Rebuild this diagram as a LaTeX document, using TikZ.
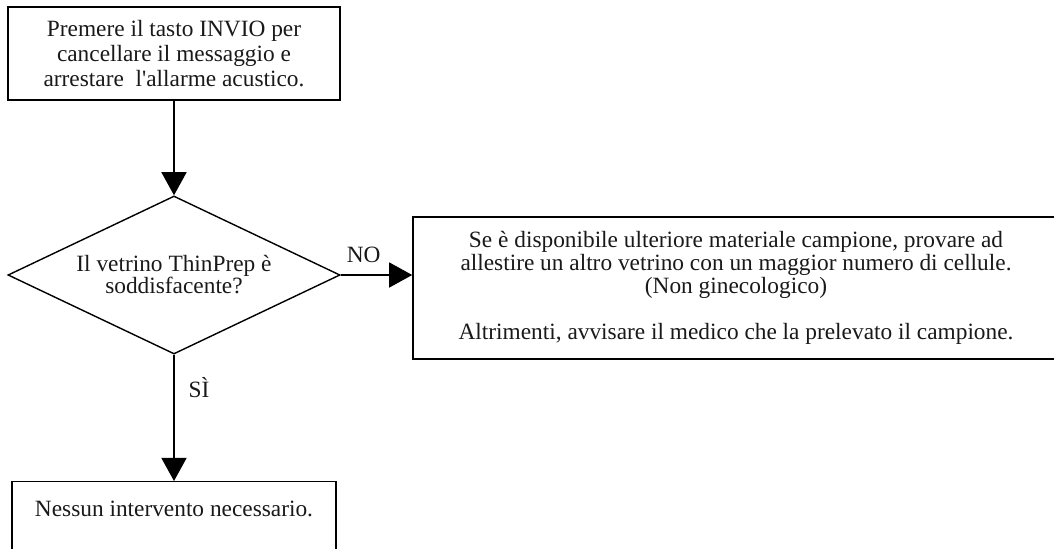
\documentclass[tikz,border=0pt]{standalone}
\usepackage{fontspec}
\setmainfont{Liberation Serif}
\usepackage{tikz}
\usetikzlibrary{arrows.meta,shapes.geometric,positioning}

\begin{document}
\begin{tikzpicture}[
    x=0.025cm, y=-0.025cm,
    every node/.style={font=\fontsize{16.6}{17.8}\selectfont, text=black!90},
    box/.style={draw, line width=1pt, align=center, inner sep=0pt},
    test/.style={draw, diamond, aspect=2.1, line width=1pt, align=center, inner sep=0pt,
        minimum width=8.3cm, minimum height=3.95cm, font=\fontsize{16.6}{15.6}\selectfont},
    arr/.style={-{Triangle[length=16.4pt,width=17.8pt]}, line width=1pt}
]
    \useasboundingbox (0,0) rectangle (1054,548);
    \clip (0,0) rectangle (1054,548);

    % Start: acknowledge the message
    \node[box, minimum width=8.3cm, minimum height=2.325cm] (start) at (174,53.5)
        {Premere il tasto INVIO per\\cancellare il messaggio e\\arrestare\ \ l\textquotesingle allarme acustico.};

    % Decision
    \node[test] (check) at (174,275) {Il vetrino ThinPrep è\\soddisfacente?};

    % NO branch
    \node[box, minimum width=16.15cm, minimum height=3.55cm, font=\fontsize{16.6}{16.4}\selectfont] (retry) at (736,288)
        {Se è disponibile ulteriore materiale campione, provare ad\\
         allestire un altro vetrino con un maggior numero di cellule.\\
         (Non ginecologico)\\[16.4pt]
         Altrimenti, avvisare il medico che la prelevato il campione.};

    % SI branch (box runs past the lower edge)
    \node[box, anchor=north, minimum width=8.1cm, text height=0.875cm, text depth=1.2cm] (done) at (174,481)
        {Nessun intervento necessario.};

    \draw[arr] (start) -- (check);
    \draw[arr] (check.east) -- (check.east -| retry.west)
        node[pos=0.32, above=5pt] {NO};
    \draw[arr] (check) -- (done)
        node[pos=0.26, right=6.5pt] {SÌ};
\end{tikzpicture}
\end{document}
